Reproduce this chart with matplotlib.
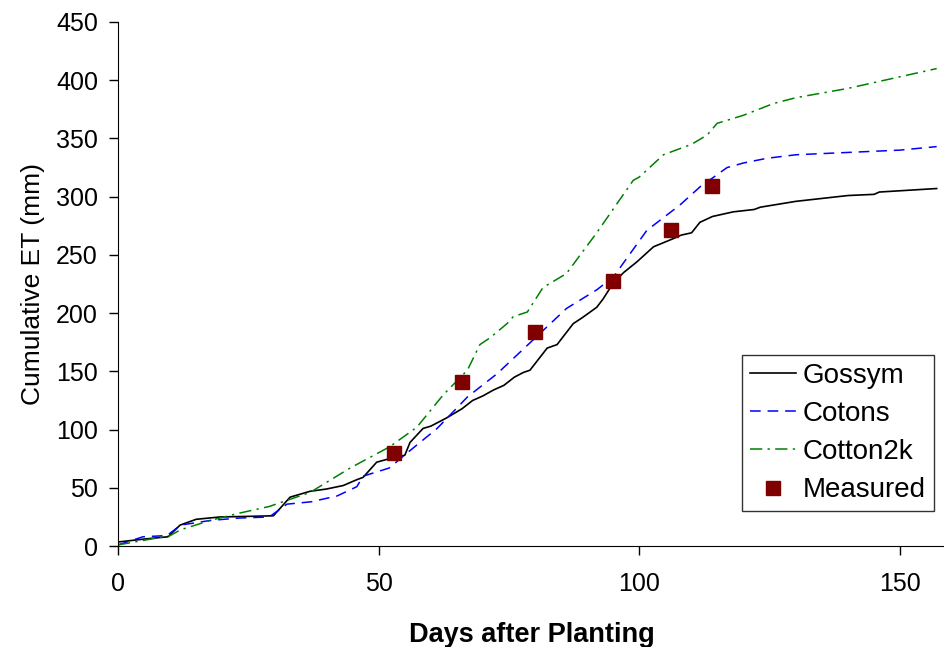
import numpy as np
import matplotlib
matplotlib.use("Agg")
import matplotlib.pyplot as plt

plt.rcParams['font.family'] = ['Liberation Sans', 'DejaVu Sans']

# Cumulative ET (mm) vs days after planting
gossym_day = [0, 5, 9.6, 11.9, 15, 19.6, 25, 29.8, 31, 33, 36.8, 40, 43.2, 45.8, 47, 49.6, 52, 55, 56,
              58.5, 60, 63, 66, 68, 70, 72, 74, 76, 77.7, 79, 82.3, 84.2, 87.3, 89, 91.8, 93, 95, 97, 99.5,
              102.7, 106.5, 108, 110, 111.6, 114, 118, 122, 123.2, 130, 140, 145, 146, 157]
gossym_et = [3.5, 6, 8, 18, 23, 25, 25.5, 26, 32, 42, 47, 49, 52, 57, 59, 72, 75, 78, 89,
             101, 103, 110, 118, 125, 129, 134, 138, 145, 149, 151, 170, 173, 191, 196, 205, 212, 226, 235, 244,
             257, 264, 267, 269, 278, 283, 287, 289, 291, 296, 301, 302, 304, 307]

cotons_day = [0, 4.8, 9.4, 12, 17.7, 23, 29, 32.4, 37, 42, 45.8, 47, 52, 56, 61.2, 67, 72.7, 79.6, 86,
              91.8, 95, 101.4, 107.8, 112, 114, 116.8, 120, 124.5, 130, 140, 150, 157]
cotons_et = [1, 8, 9, 18, 22, 24, 25, 36, 38, 43, 51, 60, 67, 82, 101, 128, 148, 177, 204,
             220, 231, 271, 293, 310, 316, 325, 329, 333, 336, 338, 340, 343]

cotton2k_day = [0, 1.9, 10, 12, 17.7, 23, 29, 36.8, 44.5, 52, 57.3, 62.4, 67, 69.4, 71.4, 74.6, 75.8,
                78.5, 81.5, 86, 91.8, 98.8, 100, 104.6, 110, 113, 114.9, 120, 125.7, 130, 140, 150, 157]
cotton2k_et = [1, 2.5, 9, 14, 22, 28, 34, 46, 67, 85, 102, 130, 151, 173, 179, 191, 197,
               201, 222, 234, 269, 314, 317, 336, 345, 353, 363, 370, 380, 385, 393, 403, 410]

measured_day = [53, 66, 80, 95, 106, 114]
measured_et = [80, 141, 184, 228, 271, 309]

fig = plt.figure(figsize=(9.45, 6.47), dpi=100)
ax = fig.add_axes([0.1249, 0.156, 0.8751, 0.81])

ax.plot(gossym_day, gossym_et, color='black', lw=1.2, label='Gossym')
ax.plot(cotons_day, cotons_et, color='#0000ff', lw=1.1, ls=(0, (7, 4.5)), label='Cotons')
ax.plot(cotton2k_day, cotton2k_et, color='#008000', lw=1.1, ls=(0, (8, 3.5, 1.5, 3.5)), label='Cotton2k')
ax.plot(measured_day, measured_et, ls='none', marker='s', ms=9.5, color='#800000',
        markeredgecolor='#800000', label='Measured')

ax.set_xlim(0, 158.6)
ax.set_ylim(0, 450)
ax.set_xticks([0, 50, 100, 150])
ax.set_yticks(np.arange(0, 451, 50))
ax.tick_params(labelsize=18, direction='out', length=6.5, width=1)
ax.tick_params(axis='x', pad=12)
ax.tick_params(axis='y', pad=8)
ax.spines['top'].set_visible(False)
ax.spines['right'].set_visible(False)

ax.set_xlabel('Days after Planting', fontsize=19.5, fontweight='bold', labelpad=19)
ax.set_ylabel('Cumulative ET (mm)', fontsize=19, labelpad=8)

leg = ax.legend(loc='upper left', bbox_to_anchor=(0.755, 0.365), fontsize=20, frameon=True,
                fancybox=False, edgecolor='black', handlelength=1.65, handletextpad=0.25,
                borderpad=0.28, labelspacing=0.44, borderaxespad=0)
leg.get_frame().set_linewidth(1.0)

fig.savefig('out.png', dpi=100)
